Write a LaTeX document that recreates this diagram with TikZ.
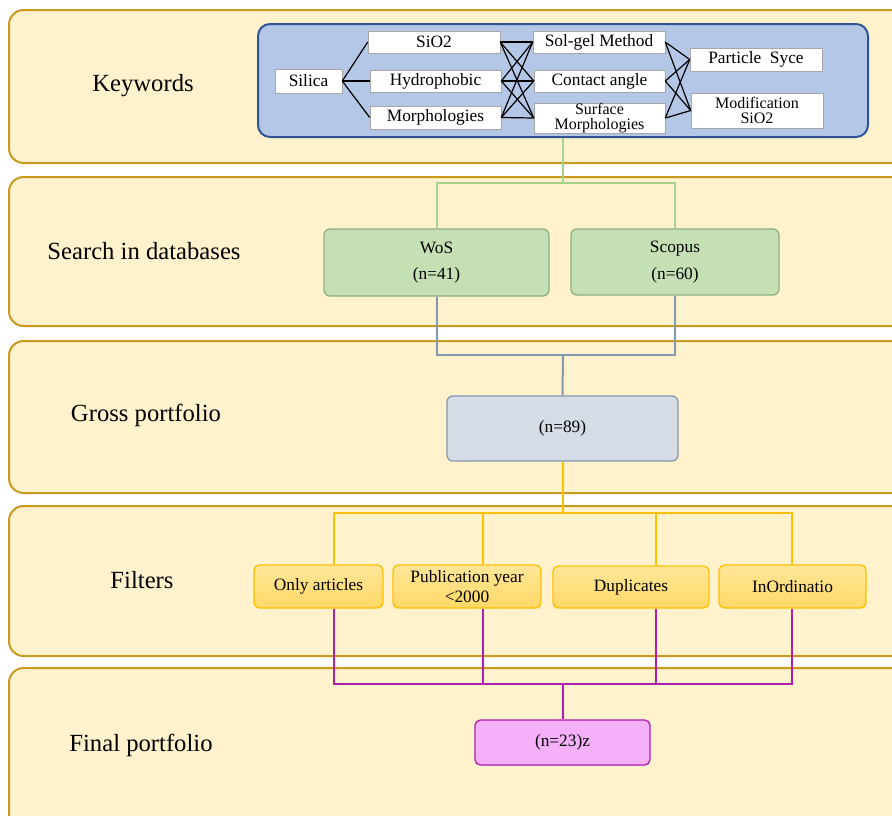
\documentclass[tikz,border=0pt]{standalone}
\usepackage{fontspec}
\setmainfont{Liberation Serif}
\definecolor{bandfill}{HTML}{FFF2CC}
\definecolor{bandline}{HTML}{C99A1E}
\definecolor{kwfill}{HTML}{B4C7E7}
\definecolor{kwline}{HTML}{2F5597}
\definecolor{dbfill}{HTML}{C5E0B4}
\definecolor{dbline}{HTML}{8FAF7F}
\definecolor{greenline}{HTML}{A9D18E}
\definecolor{grayline}{HTML}{8497B0}
\definecolor{grossfill}{HTML}{D6DCE5}
\definecolor{orangeline}{HTML}{FFC000}
\definecolor{filtertop}{HTML}{FFE699}
\definecolor{filterbot}{HTML}{FFD966}
\definecolor{purpleline}{HTML}{B01EB0}
\definecolor{finalfill}{HTML}{F4B0F8}
\begin{document}
\begin{tikzpicture}[x=0.75pt,y=-0.75pt,
  band/.style={draw=bandline,fill=bandfill,line width=1.5pt,rounded corners=11pt},
  lbl/.style={font=\fontsize{18.5}{22}\selectfont},
  kwbox/.style={draw=kwline,fill=kwfill,line width=1.5pt,rounded corners=9pt},
  word/.style={draw=black!35,fill=white,inner sep=0pt,align=center,font=\fontsize{13}{10.5}\selectfont},
  word2/.style={word,font=\fontsize{12}{11.5}\selectfont},
  dbbox/.style={draw=dbline,fill=dbfill,line width=1pt,rounded corners=4.5pt,align=center,font=\fontsize{13}{20}\selectfont},
  grossbox/.style={draw=grayline,fill=grossfill,line width=1pt,rounded corners=4.5pt,font=\fontsize{13}{20}\selectfont},
  filterbox/.style={draw=orangeline,top color=filtertop,bottom color=filterbot,line width=1pt,rounded corners=4pt,align=center,font=\fontsize{13}{15}\selectfont},
  finalbox/.style={draw=purpleline,fill=finalfill,line width=1pt,rounded corners=4pt,font=\fontsize{13}{15}\selectfont},
  kwlink/.style={draw=black,line width=0.9pt},
  gline/.style={draw=greenline,line width=1.5pt},
  bline/.style={draw=grayline,line width=1.5pt},
  oline/.style={draw=orangeline,line width=1.5pt},
  pline/.style={draw=purpleline,line width=1.5pt}]
\def\px{0.75pt}
\clip (0,0) rectangle (892,815);

% bands
\draw[band] (9,10) rectangle (915,163);
\draw[band] (9,177) rectangle (915,326);
\draw[band] (9,341) rectangle (915,493);
\draw[band] (9,506) rectangle (915,656);
\draw[band] (9,668) rectangle (915,840);

\node[lbl] (LK) at (143,86) {Keywords};
\node[lbl] (LS) at (144,251) {Search in databases};
\node[lbl] (LG) at (146,415) {Gross portfolio};
\node[lbl] (LF) at (142,580) {Filters};
\node[lbl] (LP) at (141,745) {Final portfolio};

% keywords
\node[kwbox,minimum width=610*\px,minimum height=113*\px] (kw) at (563,80.5) {};
\node[word,minimum width=67*\px,minimum height=24*\px] (silica) at (308.5,81) {Silica};
\node[word,minimum width=132*\px,minimum height=22*\px] (sio) at (434,42) {SiO2};
\node[word,minimum width=131*\px,minimum height=22*\px] (hydro) at (435.5,81) {Hydrophobic};
\node[word,minimum width=131*\px,minimum height=23*\px] (morph) at (435.5,117.5) {Morphologies};
\node[word,minimum width=132*\px,minimum height=22*\px] (solgel) at (599,42) {Sol-gel Method};
\node[word,minimum width=131*\px,minimum height=22*\px] (contact) at (599.5,81) {Contact angle};
\node[word2,minimum width=131*\px,minimum height=30*\px] (surface) at (599.5,118) {Surface\\Morphologies};
\node[word,minimum width=132*\px,minimum height=23*\px] (particle) at (756,59.5) {Particle\ \ Syce};
\node[word2,minimum width=132*\px,minimum height=35*\px] (modif) at (757,110.5) {Modification\\SiO2};

\draw[kwlink] (silica.east) -- (sio.west);
\draw[kwlink] (silica.east) -- (hydro.west);
\draw[kwlink] (silica.east) -- (morph.west);

\draw[kwlink] (sio.east) -- (solgel.west);
\draw[kwlink] (sio.east) -- (contact.west);
\draw[kwlink] (sio.east) -- (surface.west);
\draw[kwlink] (hydro.east) -- (solgel.west);
\draw[kwlink] (hydro.east) -- (contact.west);
\draw[kwlink] (hydro.east) -- (surface.west);
\draw[kwlink] (morph.east) -- (solgel.west);
\draw[kwlink] (morph.east) -- (contact.west);
\draw[kwlink] (morph.east) -- (surface.west);

\draw[kwlink] (solgel.east) -- (particle.west);
\draw[kwlink] (solgel.east) -- (modif.west);
\draw[kwlink] (contact.east) -- (particle.west);
\draw[kwlink] (contact.east) -- (modif.west);
\draw[kwlink] (surface.east) -- (particle.west);
\draw[kwlink] (surface.east) -- (modif.west);

% databases
\node[dbbox,minimum width=225*\px,minimum height=67*\px] (wos) at (436.5,262.5) {WoS\\(n=41)};
\node[dbbox,minimum width=208*\px,minimum height=66*\px] (scopus) at (675,262) {Scopus\\(n=60)};

\coordinate (gj) at (563,183);
\draw[gline] (kw.south) -- (gj);
\draw[gline] (wos.north) |- (gj) -| (scopus.north);

% gross
\node[grossbox,minimum width=231*\px,minimum height=65*\px] (gross) at (562.5,428.5) {(n=89)};

\coordinate (bj) at (563,355);
\draw[bline] (wos.south) |- (bj) -| (scopus.south);
\draw[bline] (bj) -- (gross.north);

% filters
\node[filterbox,minimum width=129*\px,minimum height=43*\px] (f1) at (318.5,586.5) {Only articles};
\node[filterbox,minimum width=148*\px,minimum height=43*\px] (f2) at (467,586.5) {Publication year\\<2000};
\node[filterbox,minimum width=156*\px,minimum height=42*\px] (f3) at (631,587) {Duplicates};
\node[filterbox,minimum width=147*\px,minimum height=43*\px] (f4) at (792.5,586.5) {InOrdinatio};

\coordinate (o1) at (334,513);
\coordinate (o2) at (483,513);
\coordinate (o3) at (656,513);
\coordinate (o4) at (792,513);
\draw[oline] (gross.south) -- (gross.south |- o1);
\draw[oline] (o1 |- f1.north) -- (o1) -- (o4) -- (o4 |- f4.north);
\draw[oline] (o2) -- (o2 |- f2.north);
\draw[oline] (o3) -- (o3 |- f3.north);

% final
\node[finalbox,minimum width=175*\px,minimum height=45*\px] (final) at (562.5,742.5) {(n=23)z};

\coordinate (p1) at (334,684);
\coordinate (p2) at (483,684);
\coordinate (p3) at (656,684);
\coordinate (p4) at (792,684);
\draw[pline] (p1 |- f1.south) -- (p1) -- (p4) -- (p4 |- f4.south);
\draw[pline] (p2 |- f2.south) -- (p2);
\draw[pline] (p3 |- f3.south) -- (p3);
\draw[pline] (final.north) -- (final.north |- p1);
\end{tikzpicture}
\end{document}
